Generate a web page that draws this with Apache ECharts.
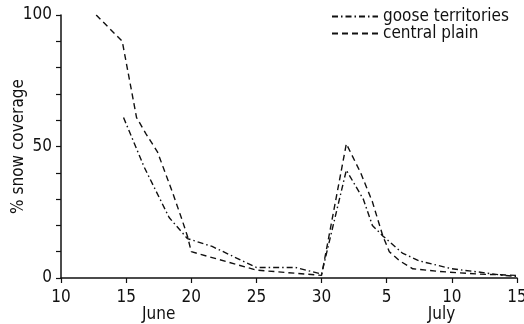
<!DOCTYPE html>
<html>
<head>
<meta charset="utf-8">
<script src="https://cdn.jsdelivr.net/npm/echarts@6/dist/echarts.min.js"></script>
<style>
  html, body { margin: 0; padding: 0; background: #fff; }
  #chart { width: 524px; height: 324px; }
</style>
</head>
<body>
<div id="chart"></div>
<script>
// Day numbers run continuously: June 1..30 = 1..30, July d = 30 + d.
const gooseDays = [14.8, 16.4, 18.3, 19.7, 21.6, 25, 28, 30, 31.9, 33.2, 33.9, 34.7, 36.2, 37.5, 40, 42, 44, 45];
const gooseCover = [61, 42, 23, 15, 12, 4, 4, 1.5, 41, 30, 20, 16, 9.5, 6.5, 3.5, 2.3, 1, 0.6];

const plainDays = [12.7, 14.7, 15.8, 16.5, 17.4, 18.6, 19.3, 19.7, 20, 25, 28, 30, 31.9, 33, 33.9, 34.7, 35.2, 36, 37, 39, 42, 45];
const plainCover = [100, 90, 61, 55, 48, 32, 22, 16, 10, 3, 1.8, 1, 51, 40, 29, 16, 10, 6.5, 3.5, 2.5, 1.5, 1];

const seriesNames = ['goose territories', 'central plain'];
const yLabelValues = [0, 50, 100];
const monthDays = [17.5, 39.2];
const monthNames = ['June', 'July'];

const FONT = '"Liberation Sans Narrow", "DejaVu Sans Condensed", sans-serif';
const INK = '#111';

const zip = (xs, ys) => xs.map((x, i) => [x, ys[i]]);

const chart = echarts.init(document.getElementById('chart'), null, { renderer: 'canvas' });

chart.setOption({
  animation: false,
  backgroundColor: '#fff',
  textStyle: { fontFamily: FONT, color: INK },
  grid: { left: 61, right: 7, top: 15, bottom: 46, containLabel: false, outerBoundsMode: 'none' },
  legend: {
    orient: 'vertical',
    left: 326,
    top: 3,
    itemWidth: 46,
    itemHeight: 10,
    itemGap: 0,
    itemStyle: { opacity: 0 },
    textStyle: { fontFamily: FONT, fontSize: 17, color: INK },
    data: seriesNames
  },
  xAxis: [
    {
      type: 'value',
      min: 10,
      max: 45,
      interval: 5,
      splitLine: { show: false },
      axisLine: { lineStyle: { color: INK, width: 1.5 } },
      axisTick: { inside: false, length: 5, lineStyle: { color: INK, width: 1.2 } },
      axisLabel: {
        margin: 11,
        fontFamily: FONT,
        fontSize: 17,
        color: INK,
        formatter: v => String(v > 30 ? v - 30 : v)
      }
    },
    {
      type: 'value',
      position: 'bottom',
      min: 10,
      max: 45,
      splitLine: { show: false },
      axisLine: { show: false },
      axisTick: { show: false },
      axisLabel: {
        margin: 28,
        fontFamily: FONT,
        fontSize: 17,
        color: INK,
        customValues: monthDays,
        formatter: v => monthNames[monthDays.indexOf(v)] || ''
      }
    }
  ],
  yAxis: {
    type: 'value',
    min: 0,
    max: 100,
    interval: 10,
    name: '% snow coverage',
    nameLocation: 'middle',
    nameRotate: 90,
    nameGap: 34,
    nameMoveOverlap: false,
    nameTextStyle: { fontFamily: FONT, fontSize: 17, color: INK },
    splitLine: { show: false },
    axisLine: { show: true, lineStyle: { color: INK, width: 1.5 } },
    axisTick: { inside: false, length: 5, lineStyle: { color: INK, width: 1.2 } },
    axisLabel: {
      margin: 9,
      fontFamily: FONT,
      fontSize: 17,
      color: INK,
      formatter: v => (yLabelValues.includes(v) ? String(v) : '')
    }
  },
  series: [
    {
      name: seriesNames[0],
      type: 'line',
      data: zip(gooseDays, gooseCover),
      symbol: 'none',
      lineStyle: { color: INK, width: 1.4, type: [6, 3, 1.5, 3] },
      itemStyle: { color: INK }
    },
    {
      name: seriesNames[1],
      type: 'line',
      data: zip(plainDays, plainCover),
      symbol: 'none',
      lineStyle: { color: INK, width: 1.4, type: [6, 4] },
      itemStyle: { color: INK }
    }
  ]
});
</script>
</body>
</html>
